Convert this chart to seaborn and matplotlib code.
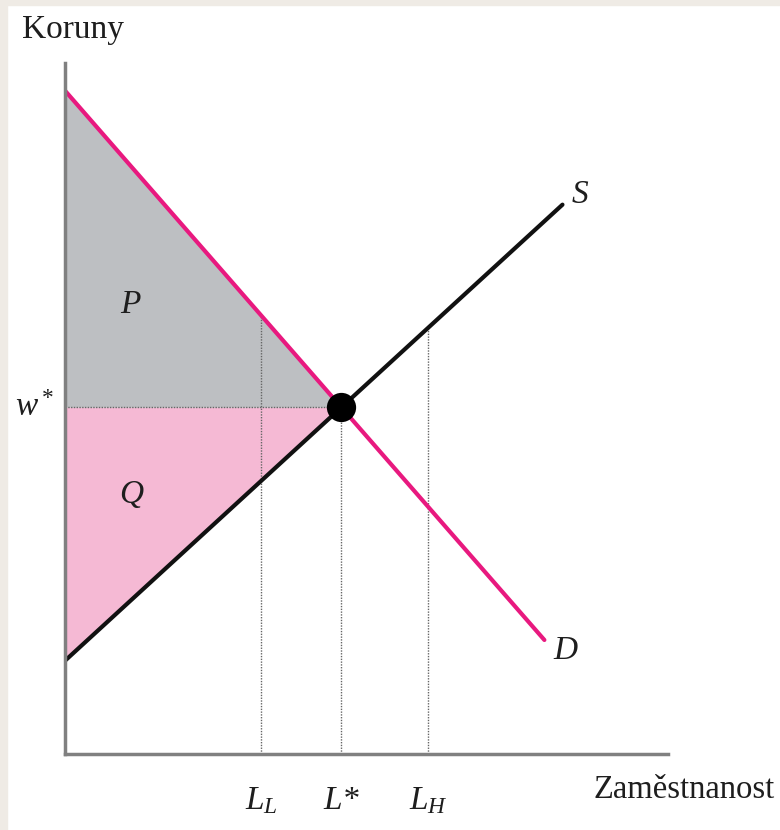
import numpy as np
import pandas as pd
import seaborn as sns
import matplotlib.pyplot as plt
from matplotlib.patches import Rectangle

# data: demand and supply lines (end points), label positions
d_x = [0.0, 7.95]
d_y = [9.6, 1.65]
s_x = [0.0, 8.25]
s_y = [1.35, 7.95]
tick_names = ["$L_L$", "$L$*", "$L_H$"]
l_low = 3.25
l_high = 6.02

# equilibrium = where the two lines cross
d_slope = (d_y[1] - d_y[0]) / (d_x[1] - d_x[0])
s_slope = (s_y[1] - s_y[0]) / (s_x[1] - s_x[0])
l_star = (d_y[0] - s_y[0]) / (s_slope - d_slope)
w_star = s_y[0] + s_slope * l_star

sns.set_style("white")
plt.rcParams["font.family"] = ["Liberation Serif", "DejaVu Serif"]
plt.rcParams["mathtext.fontset"] = "custom"
plt.rcParams["mathtext.it"] = "Liberation Serif:italic"
plt.rcParams["mathtext.rm"] = "Liberation Serif"
plt.rcParams["text.color"] = "#1e1e1e"

fig = plt.figure(figsize=(7.8, 8.3), dpi=100)
fig.patch.set_facecolor("white")
# beige strip on the left and top edge
fig.patches.append(Rectangle((0, 0), 7 / 780, 1, transform=fig.transFigure, color="#efebe5", zorder=0))
fig.patches.append(Rectangle((0, 1 - 5 / 830), 1, 5 / 830, transform=fig.transFigure, color="#efebe5", zorder=0))

ax = fig.add_axes([65 / 780, 76 / 830, 603 / 780, 691 / 830])
ax.set_xlim(0, 10)
ax.set_ylim(0, 10)

# shaded areas
xs = np.linspace(0, l_star, 50)
ax.fill_between(xs, w_star, d_y[0] + d_slope * xs, color="#bdbfc2", lw=0)
ax.fill_between(xs, s_y[0] + s_slope * xs, w_star, color="#f5b9d4", lw=0)

# dotted guides
dot = dict(color="#666666", lw=1, ls=(0, (1, 1)))
ax.plot([0, l_star], [w_star, w_star], **dot)
ax.plot([l_low, l_low], [0, d_y[0] + d_slope * l_low], **dot)
ax.plot([l_star, l_star], [0, w_star], **dot)
ax.plot([l_high, l_high], [0, s_y[0] + s_slope * l_high], **dot)

lines = pd.DataFrame({"x": d_x + s_x, "y": d_y + s_y, "curve": ["D", "D", "S", "S"]})
sns.lineplot(data=lines, x="x", y="y", hue="curve", palette={"D": "#e8197f", "S": "#111111"},
             lw=3, legend=False, ax=ax, sort=False)
sns.scatterplot(x=[l_star], y=[w_star], s=380, color="black", edgecolor="black", zorder=5, ax=ax)

# axes look
for side in ["top", "right"]:
    ax.spines[side].set_visible(False)
for side in ["left", "bottom"]:
    ax.spines[side].set_color("#808080")
    ax.spines[side].set_linewidth(2.5)
ax.set_xticks([])
ax.set_yticks([])
ax.set_xlabel("")
ax.set_ylabel("")

fs = 24
fig.text(22 / 780, 1 - 30 / 830, "Koruny", fontsize=fs, va="center", ha="left")
fig.text(775 / 780, 1 - 790 / 830, "Zaměstnanost", fontsize=23.5, va="center", ha="right")
ax.text(-0.5, w_star, "$w^*$", fontsize=fs, ha="center", va="center")
ax.text(8.55, 7.95 + 0.14, "$S$", fontsize=fs, ha="center", va="center")
ax.text(8.3, 1.5, "$D$", fontsize=fs, ha="center", va="center")
ax.text(1.1, 6.5, "$P$", fontsize=fs, ha="center", va="center")
ax.text(1.1, 3.75, "$Q$", fontsize=fs, ha="center", va="center")
for pos, name in zip([l_low, l_star, l_high], tick_names):
    ax.text(pos, -0.68, name, fontsize=fs, ha="center", va="center", style="italic")

fig.savefig("out.png", dpi=100)
